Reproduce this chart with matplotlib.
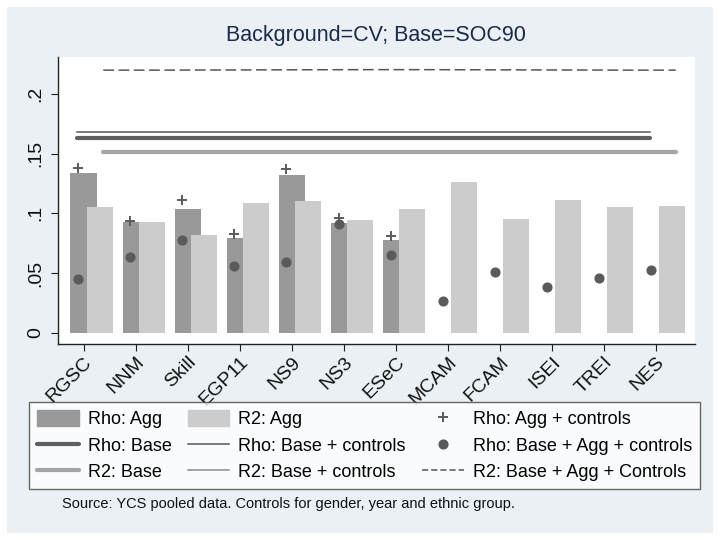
import numpy as np
import matplotlib
matplotlib.use("Agg")
import matplotlib.pyplot as plt
from matplotlib.patches import Patch
from matplotlib.lines import Line2D

plt.rcParams['font.family'] = ['Liberation Sans', 'DejaVu Sans']

# data
cats = ["RGSC", "NNM", "Skill", "EGP11", "NS9", "NS3", "ESeC",
        "MCAM", "FCAM", "ISEI", "TREI", "NES"]
rho_agg = [0.134, 0.0928, 0.1037, 0.0794, 0.1323, 0.092, 0.0778,
           np.nan, np.nan, np.nan, np.nan, np.nan]
r2_agg = [0.1054, 0.0928, 0.0819, 0.1085, 0.1105, 0.0948, 0.1038,
          0.1264, 0.0954, 0.1113, 0.1054, 0.106]
rho_agg_ctrl = [0.1379, 0.0937, 0.1113, 0.0828, 0.137, 0.0959, 0.0811,
                np.nan, np.nan, np.nan, np.nan, np.nan]
rho_base_agg_ctrl = [0.0447, 0.0638, 0.078, 0.056, 0.0596, 0.0909, 0.0652,
                     0.0263, 0.0512, 0.0386, 0.0462, 0.0526]
rho_base = [0.163] * 12
rho_base_ctrl = [0.1681] * 12
r2_base = [0.151] * 12
r2_base_ctrl = [0.151] * 12
r2_base_agg_ctrl = [0.2200, 0.2200, 0.2201, 0.2202, 0.2203, 0.2204,
                    0.2204, 0.2203, 0.2202, 0.2201, 0.2200, 0.2200]

bg = "#eaf0f3"
c_dark = "#999999"
c_light = "#cccccc"
c_mark = "#5a5a5a"

x = np.arange(1, len(cats) + 1)

fig = plt.figure(figsize=(7.2, 5.4), dpi=100)
fig.patch.set_facecolor("white")
fig.add_artist(plt.Rectangle((7 / 720, 1 - 533 / 540), 706 / 720, 526 / 540,
                             transform=fig.transFigure, facecolor=bg,
                             edgecolor="none", zorder=-10))

ax = fig.add_axes([58 / 720, 1 - 344 / 540, 637 / 720, 287 / 540])
ax.set_facecolor("white")

ax.bar(x, rho_agg, width=0.5, color=c_dark, zorder=2)
ax.bar(x + 0.31, r2_agg, width=0.5, color=c_light, zorder=3)

ax.plot(x - 0.12, rho_base_ctrl, color="#555555", lw=1.1, zorder=4)
ax.plot(x - 0.12, rho_base, color="#5f5f5f", lw=3.0, solid_capstyle="round", zorder=4)
ax.plot(x + 0.38, r2_base_ctrl, color="#8a8a8a", lw=1.1, zorder=4)
ax.plot(x + 0.38, r2_base, color="#a3a3a3", lw=3.0, solid_capstyle="round", zorder=4)
ax.plot(x + 0.38, r2_base_agg_ctrl, color="#555555", lw=1.1, ls=(0, (7, 3)), zorder=4)

ax.plot(x - 0.1, rho_agg_ctrl, "+", color=c_mark, ms=7, mew=1.4, zorder=5)
ax.plot(x - 0.1, rho_base_agg_ctrl, "o", color=c_mark, ms=6.3, zorder=5)

ax.set_xlim(0.51, 12.75)
ax.set_ylim(-0.0095, 0.231)
ax.set_yticks([0, 0.05, 0.1, 0.15, 0.2])
ax.set_yticklabels(["0", ".05", ".1", ".15", ".2"], rotation=90, va="center")
ax.set_xticks(x)
ax.set_xticklabels(cats, rotation=45, ha="right", va="top", rotation_mode="anchor")
for s in ["top", "right"]:
    ax.spines[s].set_visible(False)
for s in ["left", "bottom"]:
    ax.spines[s].set_color("#222222")
    ax.spines[s].set_linewidth(1.0)
ax.tick_params(axis="both", direction="out", length=5, color="#222222",
               labelsize=14, labelcolor="#111111")
ax.tick_params(axis="y", pad=5)
ax.tick_params(axis="x", pad=2)

handles = [
    Patch(color=c_dark),
    Line2D([], [], color="#5f5f5f", lw=3.0, solid_capstyle="round"),
    Line2D([], [], color="#a3a3a3", lw=3.0, solid_capstyle="round"),
    Patch(color=c_light),
    Line2D([], [], color="#555555", lw=1.1),
    Line2D([], [], color="#8a8a8a", lw=1.1),
    Line2D([], [], ls="none", marker="+", color=c_mark, ms=7, mew=1.4),
    Line2D([], [], ls="none", marker="o", color=c_mark, ms=6.3),
    Line2D([], [], color="#555555", lw=1.1, ls=(0, (4, 2))),
]
labels = ["Rho: Agg", "Rho: Base", "R2: Base",
          "R2: Agg", "Rho: Base + controls", "R2: Base + controls",
          "Rho: Agg + controls", "Rho: Base + Agg + controls",
          "R2: Base + Agg + Controls"]
leg = fig.legend(handles, labels, ncol=3, loc="upper left",
                 bbox_to_anchor=(29 / 720, 1 - 402 / 540),
                 fontsize=13.0, frameon=True, fancybox=False,
                 handlelength=2.3, handleheight=1.0, handletextpad=0.5,
                 columnspacing=0.9, labelspacing=0.45, borderpad=0.45,
                 borderaxespad=0)
leg.get_frame().set_edgecolor("#444444")
leg.get_frame().set_linewidth(1.0)

fig.text(376 / 720, 1 - 36 / 540, "Background=CV; Base=SOC90",
         ha="center", va="center", fontsize=15.5, color="#1a2a4a")
fig.text(62 / 720, 1 - 504 / 540,
         "Source: YCS pooled data. Controls for gender, year and ethnic group.",
         ha="left", va="center", fontsize=10.5, color="#111111")

fig.savefig("out.png", dpi=100)
